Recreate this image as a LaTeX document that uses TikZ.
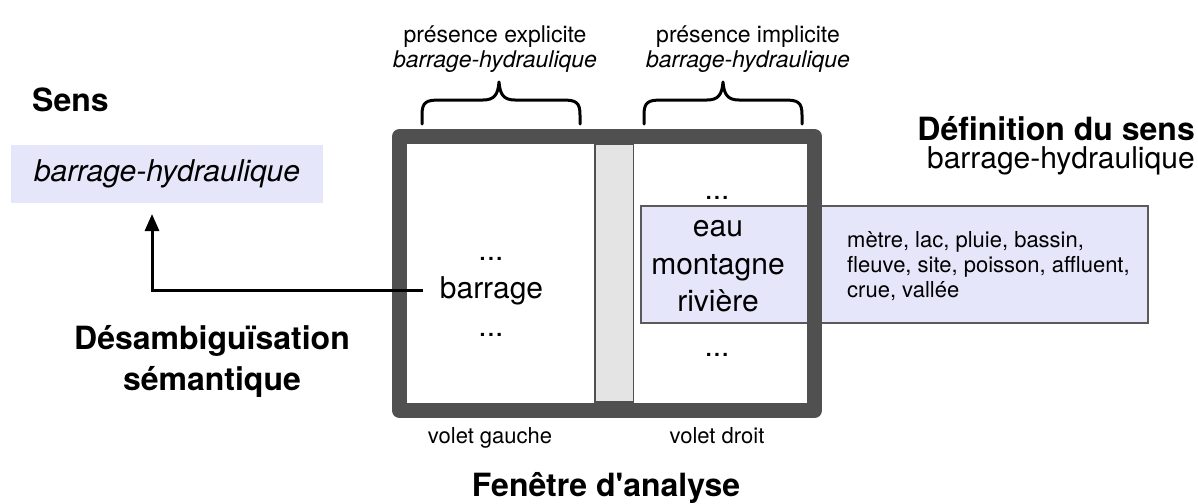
\documentclass[tikz,border=0pt]{standalone}
\usepackage{fontspec}
\setmainfont{TeX Gyre Heros}[Ligatures=TeXOff]
\usetikzlibrary{arrows.meta}
\definecolor{frm}{HTML}{505050}
\definecolor{lav}{HTML}{E6E6FA}
\definecolor{sepfill}{HTML}{E4E4E4}
\definecolor{boxline}{HTML}{5A5A5A}
\tikzset{
  title/.style={font=\fontsize{32}{38}\selectfont\bfseries, inner sep=0},
  big/.style={font=\fontsize{30}{36}\selectfont, inner sep=0},
  mid/.style={font=\fontsize{23}{27}\selectfont, inner sep=0},
  small/.style={font=\fontsize{22}{25}\selectfont, inner sep=0},
  bracestyle/.style={line width=3, line cap=round, line join=round},
  arr/.style={line width=3, -{Triangle[length=17,width=14]}}
}
\begin{document}
\begin{tikzpicture}[x=1pt,y=-1pt]
\fill[white] (0,0) rectangle (1198,503);
\useasboundingbox (0,0) rectangle (1198,503);

% left: sense
\node[title, anchor=base west] (sens) at (32,111) {Sens};
\node[fill=lav, minimum width=312, minimum height=58, inner sep=0,
      font=\fontsize{30}{36}\selectfont\itshape] (sensbox) at (167,174) {barrage-hydraulique};
\node[title, anchor=base] (desamb1) at (212,349) {Désambiguïsation};
\node[title, anchor=base] (desamb2) at (212,390) {sémantique};

% definition box (under the frame)
\node[draw=boxline, fill=lav, line width=1.5, minimum width=507, minimum height=117, inner sep=0] (defbox) at (894.5,264.5) {};

% window frame
\node[draw=frm, line width=15, line join=round, minimum width=415, minimum height=274, inner sep=0] (win) at (607,273.5) {};
\node[draw=frm, fill=sepfill, line width=1.5, minimum width=38.5, minimum height=258, inner sep=0] (sep) at (614,273) {};

% left pane
\node[big, anchor=base] (ldots1) at (491,260) {...};
\node[big, anchor=base, inner xsep=17] (barrage) at (491.5,298) {barrage};
\node[big, anchor=base] (ldots2) at (491,336) {...};

% right pane
\node[big, anchor=base] (rdots1) at (717,199) {...};
\node[big, anchor=base] (eau) at (718,236) {eau};
\node[big, anchor=base] (montagne) at (718,274) {montagne};
\node[big, anchor=base] (riviere) at (718,311) {rivière};
\node[big, anchor=base] (rdots2) at (717,356) {...};

% list in definition box
\node[small, anchor=base west] (l1) at (847,247) {mètre, lac, pluie, bassin,};
\node[small, anchor=base west] (l2) at (847,272) {fleuve, site, poisson, affluent,};
\node[small, anchor=base west] (l3) at (847,297) {crue, vallée};

% definition title
\node[title, anchor=base east] (deftitle) at (1195,140) {Définition du sens};
\node[big, anchor=base east] (defword) at (1195,168) {barrage-hydraulique};

% top labels
\node[mid, anchor=base] (pe1) at (495,42) {présence explicite};
\node[mid, anchor=base, font=\fontsize{23}{27}\selectfont\itshape] (pe2) at (495,67) {barrage-hydraulique};
\node[mid, anchor=base] (pi1) at (748,42) {présence implicite};
\node[mid, anchor=base, font=\fontsize{23}{27}\selectfont\itshape] (pi2) at (748,67) {barrage-hydraulique};

% braces
\draw[bracestyle] (422,124) -- (422,115) .. controls (422,102) and (426,100) .. (440,100)
  -- (483,100) .. controls (494,100) and (498,95) .. (499,82)
  .. controls (500,95) and (504,100) .. (515,100)
  -- (562,100) .. controls (576,100) and (580,102) .. (580,115) -- (580,124);
\draw[bracestyle] (644,124) -- (644,115) .. controls (644,102) and (648,100) .. (662,100)
  -- (707,100) .. controls (718,100) and (722,95) .. (723,82)
  .. controls (724,95) and (728,100) .. (739,100)
  -- (784,100) .. controls (798,100) and (802,102) .. (802,115) -- (802,124);

% bottom labels
\node[small, anchor=base] (vg) at (490,443) {volet gauche};
\node[small, anchor=base] (vd) at (717,443) {volet droit};
\node[title, anchor=base] (fen) at (606,496) {Fenêtre d'analyse};

% arrow
\coordinate (tip) at (152,214);
\draw[arr] (barrage.west) -| (tip);
\end{tikzpicture}
\end{document}
